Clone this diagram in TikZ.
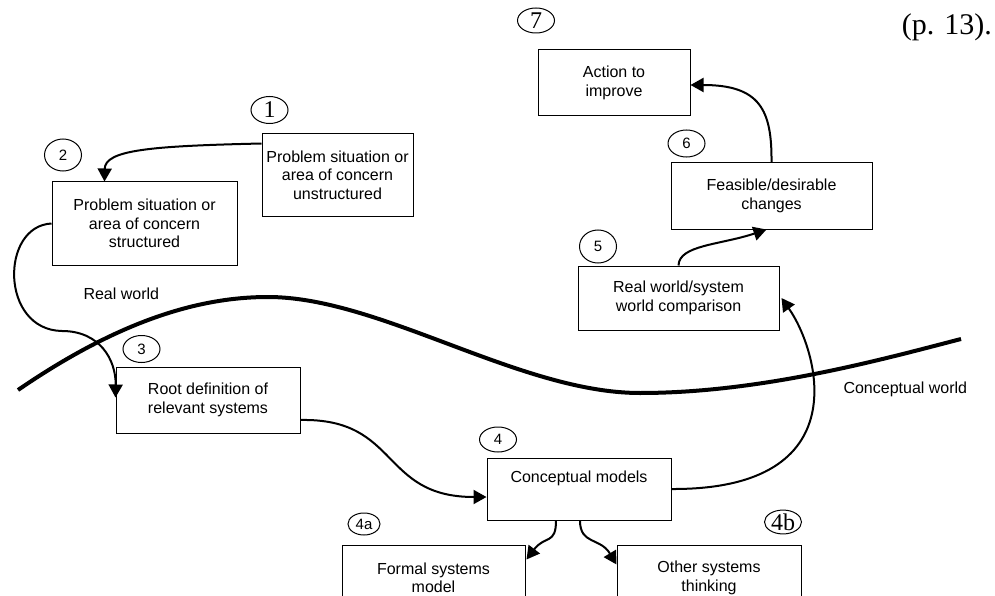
\documentclass[tikz,border=0pt]{standalone}
\usepackage{fontspec}
\setmainfont{Liberation Serif}
\setsansfont{Liberation Sans}
\usetikzlibrary{shapes.geometric,arrows.meta,calc}

\begin{document}
\begin{tikzpicture}[x=1pt,y=-1pt,
      box/.style={draw,line width=1pt,inner sep=0pt,align=center,font=\sffamily\fontsize{16}{18.3}\selectfont},
      num/.style={draw,ellipse,line width=1pt,inner sep=0pt,minimum width=37pt,minimum height=27pt,font=\sffamily\fontsize{15}{15}\selectfont},
      rnum/.style={num,font=\rmfamily\fontsize{24}{24}\selectfont},
      lbl/.style={font=\sffamily\fontsize{16}{18.3}\selectfont},
      flow/.style={line width=2pt,-{Triangle[length=13pt,width=14pt]}}]
      \useasboundingbox (0,0) rectangle (995,596);
      \clip (0,0) rectangle (995,596);
      \draw[line width=4pt] (18,390) .. controls (120,320) and (200,297) .. (268,297) .. controls (380,297) and (520,393) .. (640,393) .. controls (760,393) and (880,360) .. (961,339);
      \node[box,minimum width=151pt,minimum height=82pt] (s1) at (337.5,175) {Problem situation or\\area of concern\\unstructured};
      \node[box,minimum width=185pt,minimum height=83pt] (s2) at (144.5,223.5) {Problem situation or\\area of concern\\structured};
      \node[box,minimum width=184pt,minimum height=66pt] (s3) at (208,400) {Root definition of\\relevant systems};
      \node[box,minimum width=184pt,minimum height=62pt] (s4) at (579,489) {Conceptual models\\\strut};
      \node[box,minimum width=183pt,minimum height=66pt] (s4a) at (433.5,578) {Formal systems\\model};
      \node[box,minimum width=184pt,minimum height=66pt] (s4b) at (709,578) {Other systems\\thinking};
      \node[box,minimum width=201pt,minimum height=64pt] (s5) at (678.5,298) {Real world/system\\world comparison};
      \node[box,minimum width=201pt,minimum height=66pt] (s6) at (771.5,196) {Feasible/desirable\\changes};
      \node[box,minimum width=152pt,minimum height=66pt] (s7) at (614,83) {Action to\\improve};
      \node[rnum] (n1) at (269.5,110) {1};
      \node[num,minimum height=32pt] (n2) at (63,155) {2};
      \node[num] (n3) at (141.5,349) {3};
      \node[num,minimum height=25pt] (n4) at (498,439.5) {4};
      \node[num,minimum width=32pt,minimum height=22pt] (n4a) at (364,524) {4a};
      \node[rnum,minimum height=22pt] (n4b) at (783,522) {4b};
      \node[num,minimum height=33pt] (n5) at (598,246.5) {5};
      \node[num] (n6) at (686.5,143.5) {6};
      \node[rnum,minimum height=25pt] (n7) at (536,20.5) {7};
      \node[lbl,anchor=base west] (real) at (80,299) {Real world};
      \node[lbl,anchor=base west] (concept) at (840,393) {Conceptual world};
      \node[anchor=base east,inner sep=0pt,font=\rmfamily\fontsize{30}{30}\selectfont] (page) at (992,35) {(p. 13).};
      \draw[flow] ($(s1.north west)+(0,10)$) .. controls (150,146) and (105,150) .. ($(s2.north west)+(53,0)$);
      \draw[flow] (s2.west) .. controls (0,226) and (0,330) .. (62,331) .. controls (100,331) and (116,360) .. ($(s3.north west)+(0,31)$);
      \draw[flow] ($(s3.east)+(0,20)$) .. controls (400,418) and (380,497) .. ($(s4.west)+(0,8)$);
      \draw[flow] (s4.east) .. controls (860,490) and (818,350) .. ($(s5.east)+(2,0)$);
      \draw[flow] (s5.north) .. controls (679,245) and (720,245) .. ($(s6.south)+(-5,0)$);
      \draw[flow] (s6.north) .. controls (772,110) and (760,85) .. ($(s7.east)+(0,2)$);
      \draw[flow] ($(s4.south)+(-23,0)$) .. controls (556,545) and (545,535) .. ($(s4a.north east)+(1,15)$);
      \draw[flow] ($(s4.south)+(1,0)$) .. controls (580,545) and (600,537) .. ($(s4b.north west)+(0,20)$);
    \end{tikzpicture}
\end{document}
